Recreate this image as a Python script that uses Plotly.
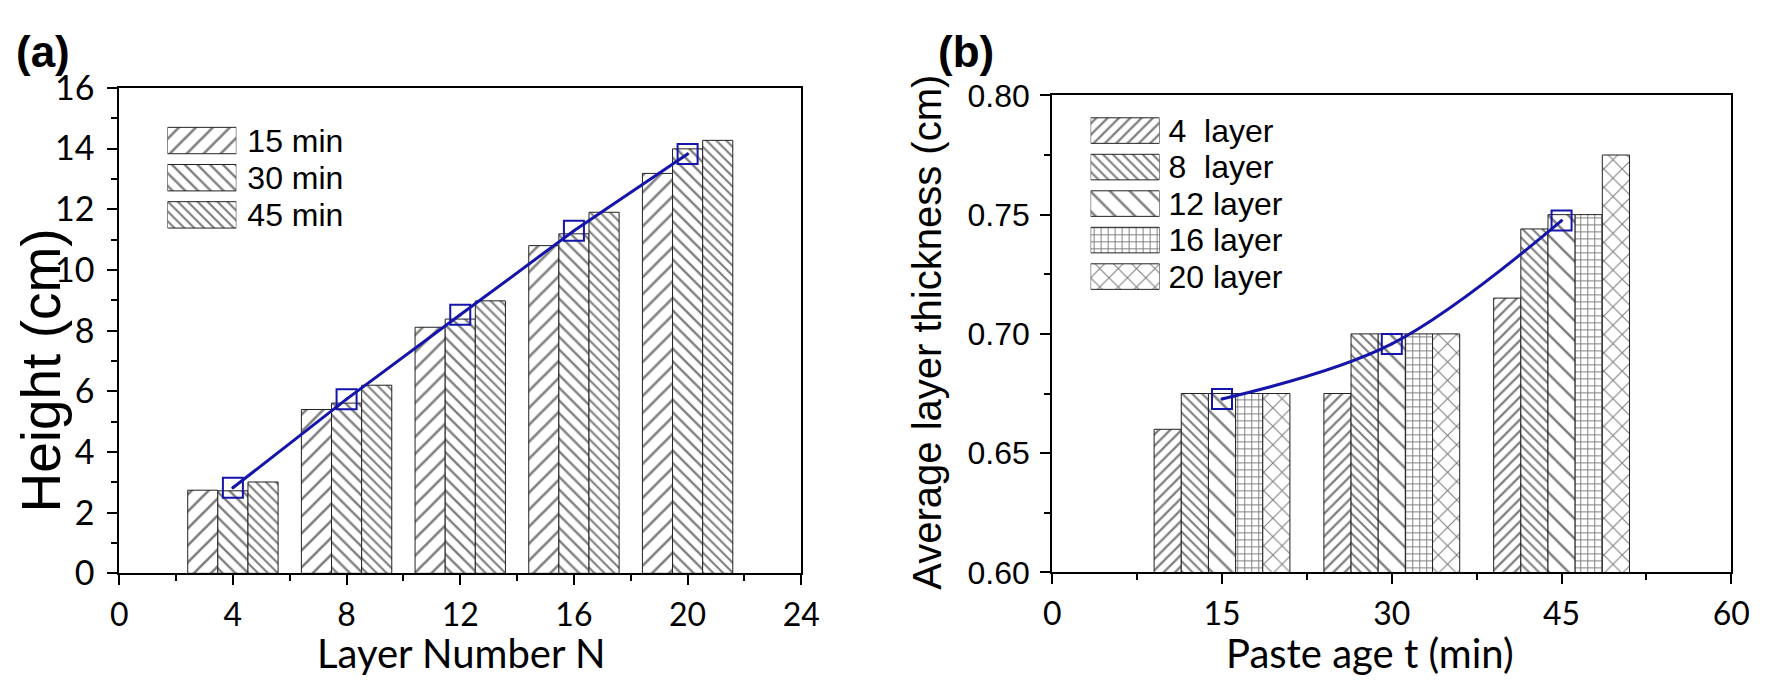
import plotly.graph_objects as go

W, H = 1772, 693

# panel (a): height vs layer number
layers = [4, 8, 12, 16, 20]
age_names = ["15 min", "30 min", "45 min"]
h15 = [2.74, 5.40, 8.11, 10.80, 13.18]
h30 = [2.72, 5.61, 8.38, 11.19, 13.99]
h45 = [3.01, 6.20, 8.98, 11.90, 14.27]
h_mean = [2.82, 5.74, 8.52, 11.29, 13.82]

# panel (b): average layer thickness vs paste age
ages = [15, 30, 45]
layer_names = ["4\u00a0\u00a0layer", "8\u00a0\u00a0layer", "12 layer", "16 layer", "20 layer"]
t4 = [0.660, 0.675, 0.715]
t8 = [0.675, 0.700, 0.744]
t12 = [0.675, 0.700, 0.750]
t16 = [0.675, 0.700, 0.750]
t20 = [0.675, 0.700, 0.775]
t_mean = [0.6727, 0.6958, 0.7475]


def px(x):
    return x / W


def py(y):
    return 1 - y / H


BLUE = "#1515aa"
EDGE = "#222222"
ARIAL = "Liberation Sans, Arial, sans-serif"
CALI = "Lato, Liberation Sans, sans-serif"

a_pat = [("/", 12, 0.22), ("\\", 9, 0.26), ("\\", 7, 0.3)]
b_pat = [("/", 8, 0.28), ("\\", 7, 0.3), ("\\", 14, 0.18), ("+", 7, 0.26), ("x", 13, 0.16)]


def marker(p):
    return dict(color="white", line=dict(color=EDGE, width=1),
                pattern=dict(shape=p[0], size=p[1], solidity=p[2],
                             fgcolor="black", bgcolor="white"))


fig = go.Figure()

# ---- panel (a) bars
wa = 1.06
for i, (name, vals) in enumerate(zip(age_names, [h15, h30, h45])):
    fig.add_trace(go.Bar(x=layers, y=vals, name=name, width=wa, offset=(i - 1.5) * wa,
                         marker=marker(a_pat[i]), xaxis="x", yaxis="y", showlegend=False))
fig.add_trace(go.Scatter(x=layers, y=h_mean, mode="lines+markers", xaxis="x", yaxis="y",
                         line=dict(color=BLUE, width=3),
                         marker=dict(symbol="square-open-dot", size=20, color=BLUE,
                                     line=dict(width=2, color=BLUE)),
                         showlegend=False))

# ---- panel (b) bars
wb = 2.4
for i, (name, vals) in enumerate(zip(layer_names, [t4, t8, t12, t16, t20])):
    fig.add_trace(go.Bar(x=ages, y=vals, name=name, width=wb, offset=(i - 2.5) * wb,
                         marker=marker(b_pat[i]), xaxis="x2", yaxis="y2", showlegend=False))
fig.add_trace(go.Scatter(x=ages, y=t_mean, mode="lines+markers", xaxis="x2", yaxis="y2",
                         line=dict(color=BLUE, width=3, shape="spline"),
                         marker=dict(symbol="square-open-dot", size=20, color=BLUE,
                                     line=dict(width=2, color=BLUE)),
                         showlegend=False))

# ---- legend swatches drawn as small horizontal bars in inset axes
for i, name in enumerate(age_names):
    fig.add_trace(go.Bar(y=[name], x=[1], orientation="h", width=0.71,
                         marker=marker(a_pat[i]), xaxis="x3", yaxis="y3", showlegend=False))
for i, name in enumerate(layer_names):
    fig.add_trace(go.Bar(y=[name], x=[1], orientation="h", width=0.70,
                         marker=marker(b_pat[i]), xaxis="x4", yaxis="y4", showlegend=False))

axis_common = dict(showline=True, linecolor="black", linewidth=2, mirror=True,
                   ticks="outside", ticklen=10, tickwidth=2, tickcolor="black",
                   showgrid=False, zeroline=False)
minor_common = dict(ticks="outside", ticklen=6, tickwidth=2, tickcolor="black", showgrid=False)
legend_axis = dict(type="category", autorange="reversed", side="right", showline=False,
                   showgrid=False, zeroline=False, ticks="", tickmode="array",
                   tickfont=dict(family=ARIAL, size=32, color="black"))

fig.update_layout(
    width=W, height=H,
    margin=dict(l=0, r=0, t=0, b=0),
    paper_bgcolor="white", plot_bgcolor="white",
    barmode="overlay",
    xaxis=dict(domain=[px(112), px(805)], range=[0, 24], tickvals=[0, 4, 8, 12, 16, 20, 24],
               minor=dict(dtick=2, **minor_common), anchor="y",
               tickfont=dict(family=CALI, size=32, color="black"), ticklabelstandoff=2,
               **axis_common),
    yaxis=dict(domain=[py(586), py(70)], range=[0, 16], dtick=2,
               minor=dict(dtick=1, **minor_common), anchor="x",
               tickfont=dict(family=CALI, size=34, color="black"), ticklabelstandoff=6,
               **axis_common),
    xaxis2=dict(domain=[px(1060), px(1750)], range=[0, 60], tickvals=[0, 15, 30, 45, 60],
                minor=dict(dtick=7.5, **minor_common), anchor="y2",
                tickfont=dict(family=CALI, size=32, color="black"), ticklabelstandoff=2,
                **axis_common),
    yaxis2=dict(domain=[py(585), py(78)], range=[0.6, 0.8], dtick=0.05, tickformat=".2f",
                minor=dict(dtick=0.025, **minor_common), anchor="x2",
                tickfont=dict(family=ARIAL, size=32, color="black"), ticklabelstandoff=4,
                **axis_common),
    xaxis3=dict(domain=[px(161), px(231)], range=[0, 1], visible=False, anchor="y3"),
    yaxis3=dict(domain=[py(224.75), py(106.25)], anchor="x3", tickvals=age_names,
                ticktext=age_names, ticklabelstandoff=10, **legend_axis),
    xaxis4=dict(domain=[px(1099), px(1169)], range=[0, 1], visible=False, anchor="y4"),
    yaxis4=dict(domain=[py(290), py(96)], anchor="x4", tickvals=layer_names,
                ticktext=layer_names, ticklabelstandoff=8, **legend_axis),
)

titles = [
    ("(a)", 5, 3, 0, "left", "top", dict(family=ARIAL, size=44, color="black", weight="bold")),
    ("(b)", 942, 3, 0, "left", "top", dict(family=ARIAL, size=44, color="black", weight="bold")),
    ("Height (cm)", 33, 370, -90, "center", "middle", dict(family=ARIAL, size=55, color="black")),
    ("Average layer thickness (cm)", 933, 330, -90, "center", "middle",
     dict(family=ARIAL, size=40, color="black")),
    ("Layer Number N", 459, 671, 0, "center", "middle", dict(family=CALI, size=40, color="black")),
    ("Paste age t (min)", 1383, 671, 0, "center", "middle", dict(family=CALI, size=40, color="black")),
]
for text, x, y, ang, xa, ya, f in titles:
    fig.add_annotation(text=text, x=px(x), y=py(y), xref="paper", yref="paper",
                       showarrow=False, textangle=ang, xanchor=xa, yanchor=ya, font=f)

fig.write_html("out.html", config={"displayModeBar": False},
               post_script="document.body.style.margin='0px';")
